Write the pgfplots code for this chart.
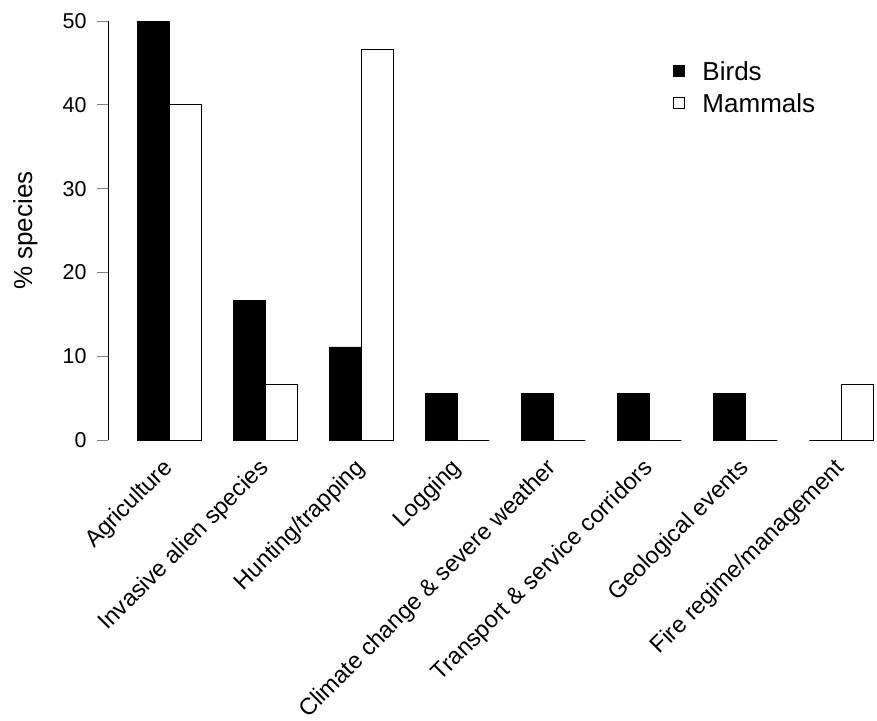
\documentclass[border=0pt]{standalone}
\usepackage{pgfplots}
\pgfplotsset{compat=1.18}
\usepackage{fontspec}
\setmainfont{Liberation Sans}
\begin{document}
\begin{tikzpicture}
\begin{axis}[
  x=32pt, y=8.38pt,
  xmin=0.08, xmax=24.11, ymin=0, ymax=50,
  axis y line=left, axis x line=bottom,
  axis line style={-, line width=0.9pt},
  x axis line style={draw=none},
  xtick style={draw=none},
  ytick style={line width=0.9pt},
  clip=false,
  tick align=outside,
  major tick length=11pt,
  ytick={0,10,20,30,40,50},
  /pgf/number format/assume math mode=true,
  yticklabel style={font=\fontsize{21.5}{24}\selectfont, xshift=-7pt},
  xtick={1.75,4.75,7.75,10.75,13.75,16.75,19.75,22.75},
  xticklabels={Agriculture, Invasive alien species, Hunting/trapping, Logging, Climate change \& severe weather, Transport \& service corridors, Geological events, Fire regime/management},
  xticklabel style={rotate=45, anchor=north east, font=\fontsize{23.5}{26}\selectfont, inner sep=2pt},
  xticklabel shift=3pt,
  ylabel={\% species},
  ylabel style={font=\fontsize{26}{30}\selectfont, at={(axis description cs:-0.0871,0.5)}, anchor=south},
  legend cell align=left,
  legend style={at={(axis cs:17.625,45.75)}, anchor=north west, draw=none, fill=none,
    font=\fontsize{26}{30}\selectfont, row sep=0pt,
    /tikz/every odd column/.append style={column sep=14pt},
    nodes={inner ysep=0pt, inner xsep=4pt, text height=22pt, text depth=10pt}},
  legend image code/.code={\draw[#1, line width=0.8pt] (0pt,-2pt) rectangle (11pt,9pt);},
]
\addplot[ybar, bar width=32pt, bar shift=0pt, draw=black, fill=black, line width=0.8pt]
  coordinates {(1.5,50) (4.5,16.67) (7.5,11.11) (10.5,5.56) (13.5,5.56) (16.5,5.56) (19.5,5.56) (22.5,0)};
\addlegendentry{Birds}
\addplot[ybar, bar width=32pt, bar shift=0pt, draw=black, fill=white, line width=0.8pt]
  coordinates {(2.5,40) (5.5,6.67) (8.5,46.67) (11.5,0) (14.5,0) (17.5,0) (20.5,0) (23.5,6.67)};
\addlegendentry{Mammals}
\coordinate (bbA) at (axis cs:-3.295,52.51);
\coordinate (bbB) at (axis cs:24.11,-33.41);
\end{axis}
\pgfresetboundingbox
\path[use as bounding box] (bbA) rectangle (bbB);
\end{tikzpicture}
\end{document}
